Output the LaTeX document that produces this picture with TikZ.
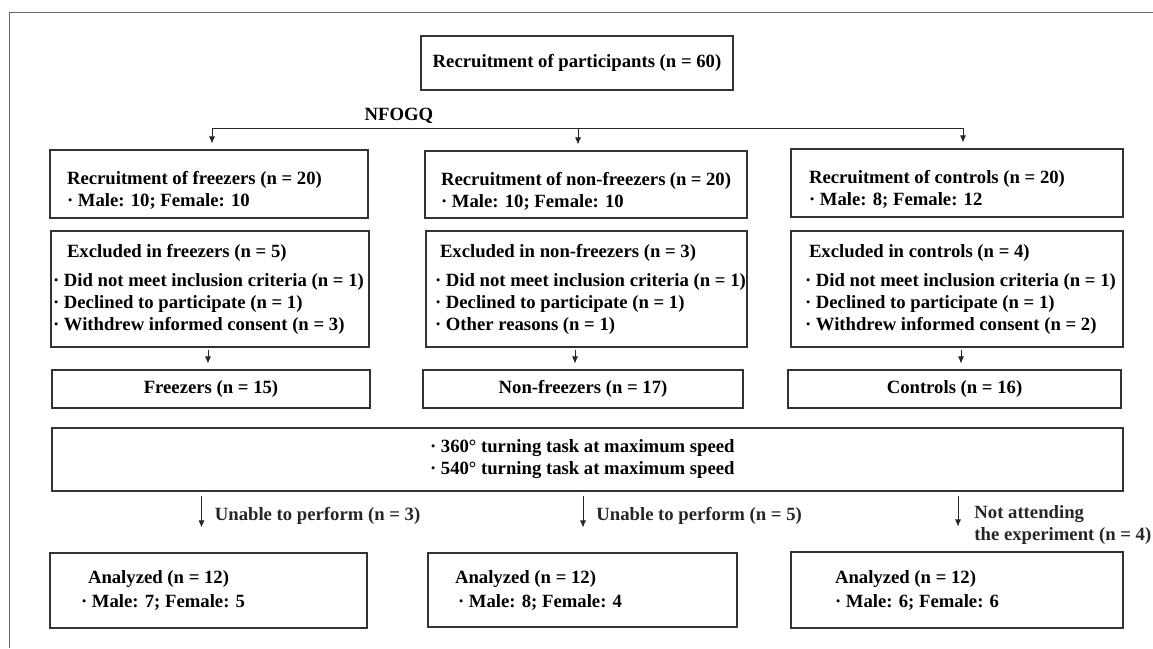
\documentclass[tikz,border=0pt]{standalone}
\usepackage{fontspec}
\setmainfont{Liberation Serif}
\usetikzlibrary{positioning,calc,arrows.meta}

\begin{document}
\begin{tikzpicture}[x=1pt, y=-1pt, >={Latex[length=7pt,width=6pt]},
	font=\fontsize{18.7}{22}\selectfont\bfseries]
	\tikzstyle{box}=[draw=black!80, line width=1.1pt, inner ysep=0pt]
	\tikzstyle{boxl}=[box, align=flush left]
	\tikzstyle{flow}=[->, black!85, line width=0.8pt]
	\tikzstyle{lbl}=[inner sep=0pt, align=flush left]
	\useasboundingbox (0,0) rectangle (1153,648);
	%Frame
	\draw[black!60, line width=0.9pt] (1153,12) -- (9,12) -- (9,648);
	%Top
	\node[box, minimum width=312pt, minimum height=54pt](top) at (577,63){Recruitment of participants (n = 60)};
	\node(nfogq) at (399,116){NFOGQ};
	%Recruitment Row
	\node[boxl, text width=284pt, inner xsep=17pt, minimum height=68pt, text height=26pt](recf) at (209,184){Recruitment of freezers (n = 20)\\· Male: 10; Female: 10};
	\node[boxl, text width=290pt, inner xsep=16pt, minimum height=67pt, text height=26pt](recn) at (586,184.5){Recruitment of non-freezers (n = 20)\\· Male: 10; Female: 10};
	\node[boxl, text width=296pt, inner xsep=18pt, minimum height=68pt, text height=26pt](recc) at (957,183){Recruitment of controls (n = 20)\\· Male: 8; Female: 12};
	%Excluded Row
	\node[boxl, text width=314pt, inner xsep=2pt, minimum height=116pt](excf) at (210,289){\hspace*{14pt}Excluded in freezers (n = 5)\\[7pt]\mbox{· Did not meet inclusion criteria (n = 1)}\\· Declined to participate (n = 1)\\· Withdrew informed consent (n = 3)};
	\node[boxl, text width=303pt, inner xsep=9pt, minimum height=116pt](excn) at (586.5,289){\hspace*{5pt}Excluded in non-freezers (n = 3)\\[7pt]\mbox{· Did not meet inclusion criteria (n = 1)}\\· Declined to participate (n = 1)\\· Other reasons (n = 1)};
	\node[boxl, text width=304pt, inner xsep=14pt, minimum height=116pt](excc) at (957,289){\hspace*{4pt}Excluded in controls (n = 4)\\[7pt]\mbox{· Did not meet inclusion criteria (n = 1)}\\· Declined to participate (n = 1)\\· Withdrew informed consent (n = 2)};
	%Groups Row
	\node[box, minimum width=318pt, minimum height=38pt](frzf) at (211,389){Freezers (n = 15)};
	\node[box, minimum width=320pt, minimum height=38pt](frzn) at (583,389){Non-freezers (n = 17)};
	\node[box, minimum width=333pt, minimum height=38pt](frzc) at (954.5,389){Controls (n = 16)};
	%Task
	\node[boxl, text width=315pt, inner xsep=378pt, minimum height=63pt](task) at (587.5,459.5){· 360° turning task at maximum speed\\· 540° turning task at maximum speed};
	%Analyzed Row
	\node[boxl, text width=255pt, inner xsep=31pt, minimum height=75pt](anaf) at (208.5,590.5){\hspace*{7pt}Analyzed (n = 12)\\[2pt]· Male: 7; Female: 5};
	\node[boxl, text width=255pt, inner xsep=27pt, minimum height=74pt](anan) at (582.5,590){Analyzed (n = 12)\\[2pt]\hspace*{3pt}· Male: 8; Female: 4};
	\node[boxl, text width=244pt, inner xsep=44pt, minimum height=76pt](anac) at (957,590){Analyzed (n = 12)\\[2pt]· Male: 6; Female: 6};
	%Split
	\coordinate(spl) at (212,128);
	\coordinate(spm) at (578,128);
	\coordinate(spr) at (963,128);
	\draw[black!85, line width=0.8pt](spl)--(spr);
	\draw[flow, shorten >=6pt](spl)--(spl |- recf.north);
	\draw[flow, shorten >=6pt](spm)--(spm |- recn.north);
	\draw[flow, shorten >=6pt](spr)--(spr |- recc.north);
	%Arrows to groups
	\draw[flow, shorten <=2pt, shorten >=6pt]($(excf.south)+(-2,0)$)--($(excf.south |- frzf.north)+(-2,0)$);
	\draw[flow, shorten <=2pt, shorten >=6pt]($(excn.south)+(-11.5,0)$)--($(excn.south |- frzn.north)+(-11.5,0)$);
	\draw[flow, shorten <=2pt, shorten >=6pt]($(excc.south)+(4,0)$)--($(excc.south |- frzc.north)+(4,0)$);
	%Arrows to analyzed
	\draw[flow, shorten <=4pt, shorten >=25pt]($(task.south -| anaf.north)+(-7,0)$)--($(anaf.north)+(-7,0)$)
		node[lbl, pos=0.4, right=13pt](dropf){Unable to perform (n = 3)};
	\draw[flow, shorten <=4pt, shorten >=25pt]($(task.south -| anan.north)+(0.5,0)$)--($(anan.north)+(0.5,0)$)
		node[lbl, pos=0.4, right=13pt](dropn){Unable to perform (n = 5)};
	\draw[flow, shorten <=4pt, shorten >=25pt]($(task.south -| anac.north)+(1,0)$)--($(anac.north)+(1,0)$)
		node[lbl, pos=0.56, right=16pt](dropc){Not attending\\the experiment (n = 4)};
\end{tikzpicture}
\end{document}
